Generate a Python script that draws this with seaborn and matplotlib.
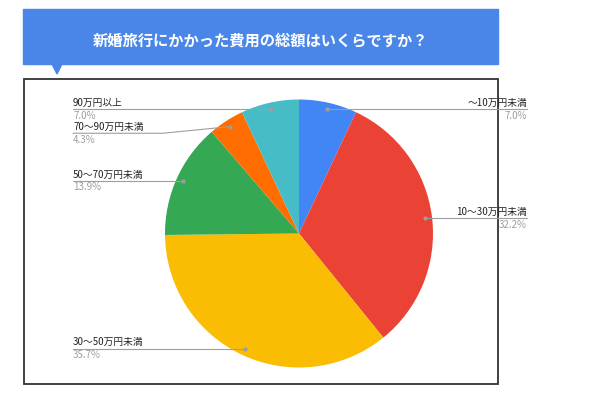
import numpy as np
import matplotlib
matplotlib.use("Agg")
import matplotlib.pyplot as plt
import seaborn as sns
from matplotlib.patches import Rectangle, Polygon

# data
title = "新婚旅行にかかった費用の総額はいくらですか？"
categories = ["〜10万円未満", "10〜30万円未満", "30〜50万円未満",
              "50〜70万円未満", "70〜90万円未満", "90万円以上"]
shares = [7.0, 32.2, 35.7, 13.9, 4.3, 7.0]
colors = ["#4285F4", "#EA4335", "#FBBC04", "#34A853", "#FF6D01", "#46BDC6"]

sns.set_style("white")
plt.rcParams["font.family"] = ["Noto Sans CJK JP", "DejaVu Sans"]

fig = plt.figure(figsize=(6, 4), dpi=100)
ax = fig.add_axes([0, 0, 1, 1])
ax.set_xlim(0, 600)
ax.set_ylim(0, 400)
ax.set_aspect("equal")
ax.axis("off")

# banner + pointer
ax.add_patch(Rectangle((23, 336), 475, 55, color="#4A86E8", zorder=1))
ax.add_patch(Polygon([(52, 336), (62, 336), (57, 326)], color="#4A86E8", zorder=1))
ax.text(260.5, 360, title, color="white", fontsize=11, fontweight="bold",
        ha="center", va="center", zorder=2)

# frame
ax.add_patch(Rectangle((24, 16), 474, 305, fill=False, edgecolor="#333333",
                       lw=1.3, zorder=1))

# pie
cx, cy, r = 299, 166.5, 134
pal = sns.color_palette(colors)
ax.pie(shares, colors=pal, startangle=90, counterclock=False,
       center=(cx, cy), radius=r, frame=True,
       wedgeprops=dict(linewidth=0))
ax.set_xlim(0, 600)
ax.set_ylim(0, 400)
ax.axis("off")

# anchor points at mid angles
fr = np.array(shares) / sum(shares)
mids = 90 - 360 * (np.cumsum(fr) - fr / 2)
ax_pts = cx + 0.95 * r * np.cos(np.radians(mids))
ay_pts = cy + 0.95 * r * np.sin(np.radians(mids))

line_c = "#9E9E9E"
right_x, left_x = 527, 73
gap = 24

# left labels sorted top to bottom, pushed apart if too close
left_idx = [i for i in range(len(shares)) if ax_pts[i] < cx]
left_idx.sort(key=lambda i: -ay_pts[i])
label_y = {}
prev = None
for i in left_idx:
    y = ay_pts[i]
    if prev is not None and prev - y < gap:
        y = prev - gap
    label_y[i] = y
    prev = y
right_idx = [i for i in range(len(shares)) if ax_pts[i] >= cx]
for i in right_idx:
    label_y[i] = ay_pts[i]

for i in range(len(shares)):
    px, py, ly = ax_pts[i], ay_pts[i], label_y[i]
    if i in right_idx:
        xs, ys = [px, right_x], [py, ly]
        tx, ha = right_x, "right"
    else:
        if abs(ly - py) > 0.5:
            xs, ys = [left_x, left_x + 90, px], [ly, ly, py]
        else:
            xs, ys = [left_x, px], [ly, py]
        tx, ha = left_x, "left"
    ax.plot(xs, ys, color=line_c, lw=0.8, zorder=3)
    ax.plot(px, py, "o", color=line_c, ms=2, zorder=4)
    ax.text(tx, ly + 1.5, categories[i], fontsize=7, color="#222222",
            ha=ha, va="bottom", zorder=4)
    ax.text(tx, ly - 1.5, f"{shares[i]:.1f}%", fontsize=7, color="#9E9E9E",
            ha=ha, va="top", zorder=4)

fig.savefig("out.png", dpi=100)
